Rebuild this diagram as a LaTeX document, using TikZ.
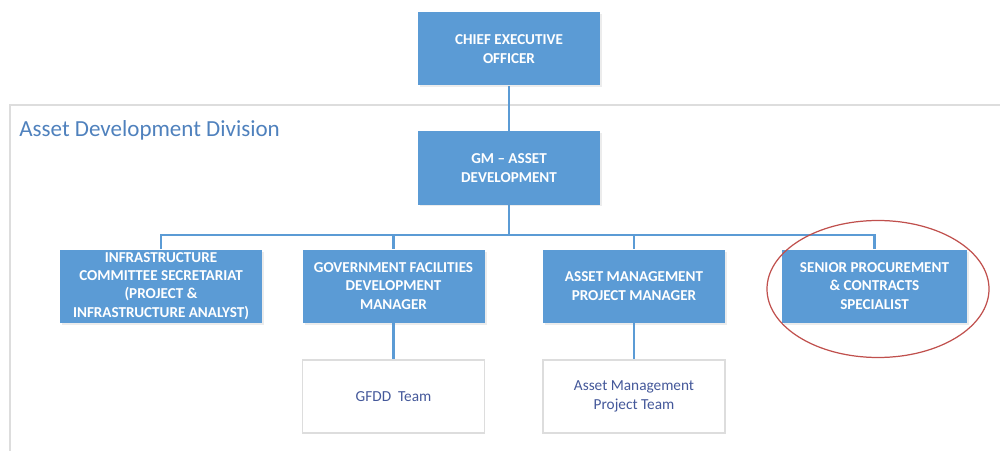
\documentclass[tikz,border=0pt]{standalone}
\usepackage{fontspec}
\setmainfont{Carlito}
\usepackage{tikz}
\usetikzlibrary{shadows}

\definecolor{boxblue}{HTML}{5B9BD5}
\definecolor{teamtext}{HTML}{44589A}
\definecolor{divtext}{HTML}{4F81BD}
\definecolor{framegray}{HTML}{DDDDDD}
\definecolor{markred}{HTML}{C0504D}

\begin{document}
\begin{tikzpicture}[every node/.style={align=center, inner sep=0pt},
	role/.style={fill=boxblue, text=white, font=\bfseries\fontsize{8.6}{10.4}\selectfont, minimum width=3.64cm, minimum height=1.46cm, drop shadow={opacity=0.15, shadow xshift=0.04cm, shadow yshift=-0.04cm}},
	team/.style={draw=framegray, line width=0.8pt, fill=white, text=teamtext, font=\fontsize{8.7}{10.6}\selectfont, minimum width=3.64cm, minimum height=1.46cm},
	link/.style={draw=boxblue, line width=1.5pt}]
		\useasboundingbox (0, 0) rectangle (20, 9);
		
		% division frame
		\draw[framegray, line width=0.8pt] (0.2, -0.5) -- (0.2, 6.9) -- (20.5, 6.9);
		\node[anchor=west, text=divtext, font=\fontsize{13.1}{15}\selectfont] (div) at (0.38, 6.4) {Asset Development Division};
		
		\node[role] (ceo) at (10.18, 8.02) {CHIEF EXECUTIVE\\OFFICER};
		\node[role] (gm) at (10.18, 5.64) {GM -- ASSET\\DEVELOPMENT};
		
		\node[role, minimum width=4.04cm] (infra) at (3.22, 3.28) {INFRASTRUCTURE\\COMMITTEE SECRETARIAT\\(PROJECT \&\\INFRASTRUCTURE ANALYST)};
		\node[role] (gfdm) at (7.87, 3.28) {GOVERNMENT FACILITIES\\DEVELOPMENT\\MANAGER};
		\node[role] (ampm) at (12.68, 3.28) {ASSET MANAGEMENT\\PROJECT MANAGER};
		\node[role, minimum width=3.7cm] (spcs) at (17.49, 3.28) {SENIOR PROCUREMENT\\\& CONTRACTS\\SPECIALIST};
		
		\node[team] (gfdd) at (7.87, 1.07) {GFDD\ \ Team};
		\node[team] (amteam) at (12.68, 1.07) {Asset Management\\Project Team};
		
		\coordinate (bus) at (10.18, 4.3);
		
		\draw[link] (ceo) -- (gm);
		\draw[link] (gm) -- (bus);
		\draw[link] (bus) -| (infra);
		\draw[link] (bus) -| (gfdm);
		\draw[link] (bus) -| (ampm);
		\draw[link] (bus) -| (spcs);
		
		\draw[link] (gfdm) -- (gfdd);
		\draw[link] (ampm) -- (amteam);
		
		% highlight
		\draw[markred, line width=0.7pt] (17.56, 3.22) ellipse (2.22cm and 1.37cm);
	\end{tikzpicture}
\end{document}
